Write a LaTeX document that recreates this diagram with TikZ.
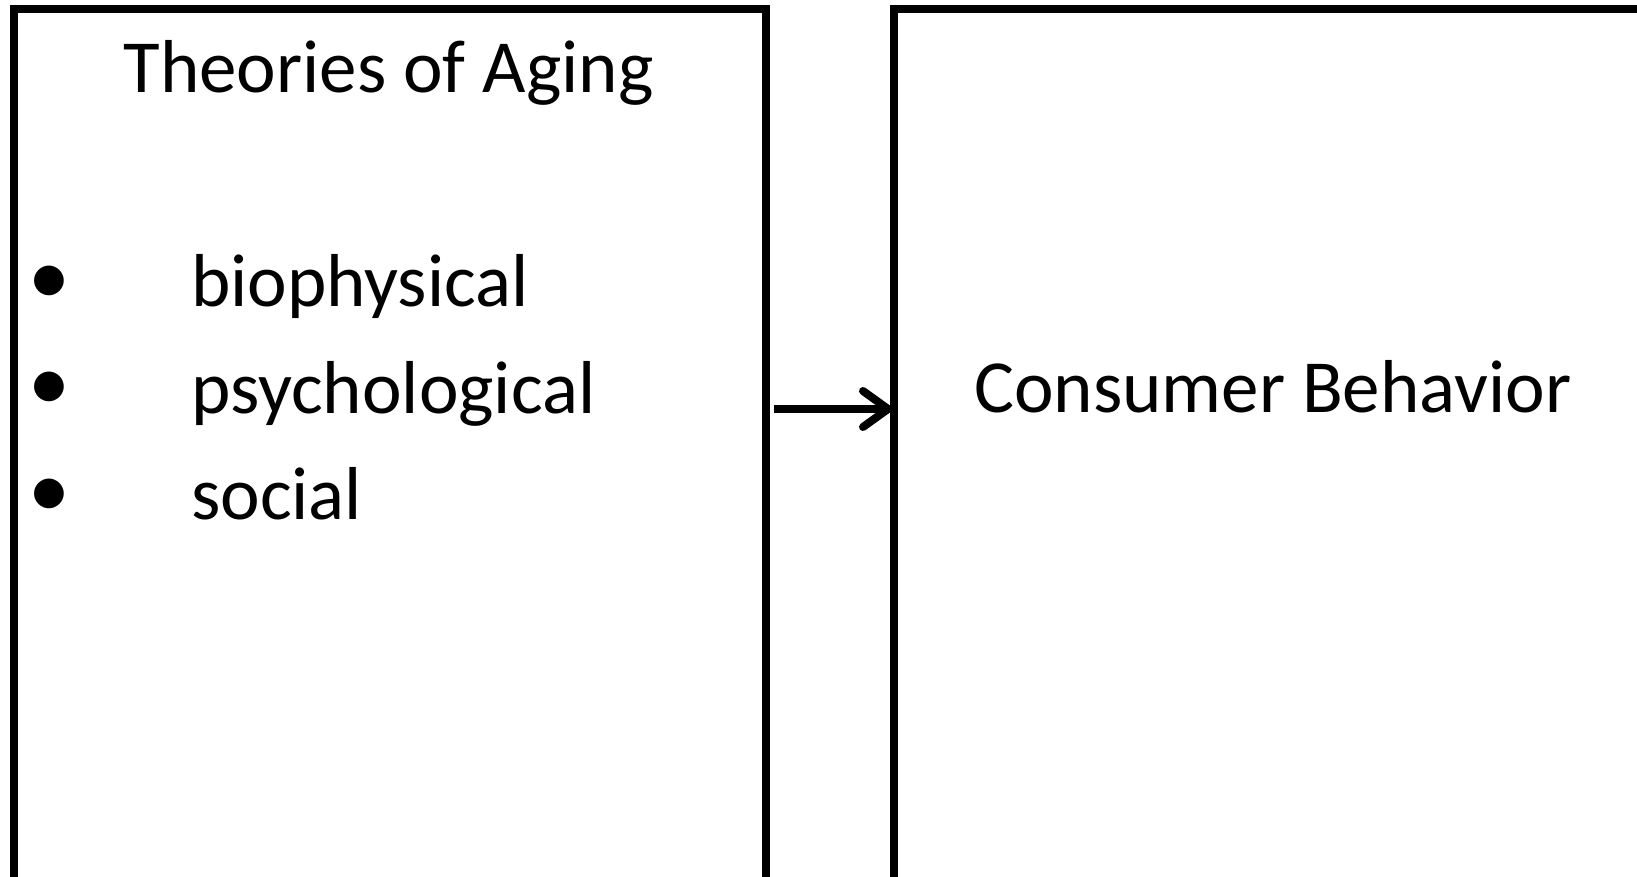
\documentclass[tikz,border=0pt]{standalone}
\usepackage{fontspec}
\setmainfont{Carlito}
\usetikzlibrary{arrows.meta}
\begin{document}
\begin{tikzpicture}[x=1pt,y=-1pt,
  frame/.style={draw=black,line width=8pt,minimum width=752pt,minimum height=871pt,inner sep=0pt},
  txt/.style={font=\fontsize{75}{90}\selectfont,inner sep=0pt,anchor=base west},
  dot/.style={font=\fontsize{84}{90}\selectfont,inner sep=0pt,anchor=center},
  link/.style={line width=8pt,-{Straight Barb[length=25pt,width=36pt,line cap=round,line join=round]}}]
\useasboundingbox (0,0) rectangle (1637,877);
\node[frame] (left) at (390,445) {};
\node[frame] (right) at (1270,445) {};
\node[txt,anchor=base] (title) at (388.5,93) {Theories of Aging};
\node[dot] (b1) at (49,285) {•};
\node[txt] (t1) at (191,306) {biophysical};
\node[dot] (b2) at (49,391) {•};
\node[txt] (t2) at (191,413) {psychological};
\node[dot] (b3) at (49,498) {•};
\node[txt] (t3) at (191,519) {social};
\node[txt] (cb) at (974,412) {Consumer Behavior};
\coordinate (a) at (left.east |- 0,409);
\coordinate (b) at (right.west |- 0,409);
\draw[link] ([xshift=4pt]a) -- ([xshift=2pt]b);
\end{tikzpicture}
\end{document}
